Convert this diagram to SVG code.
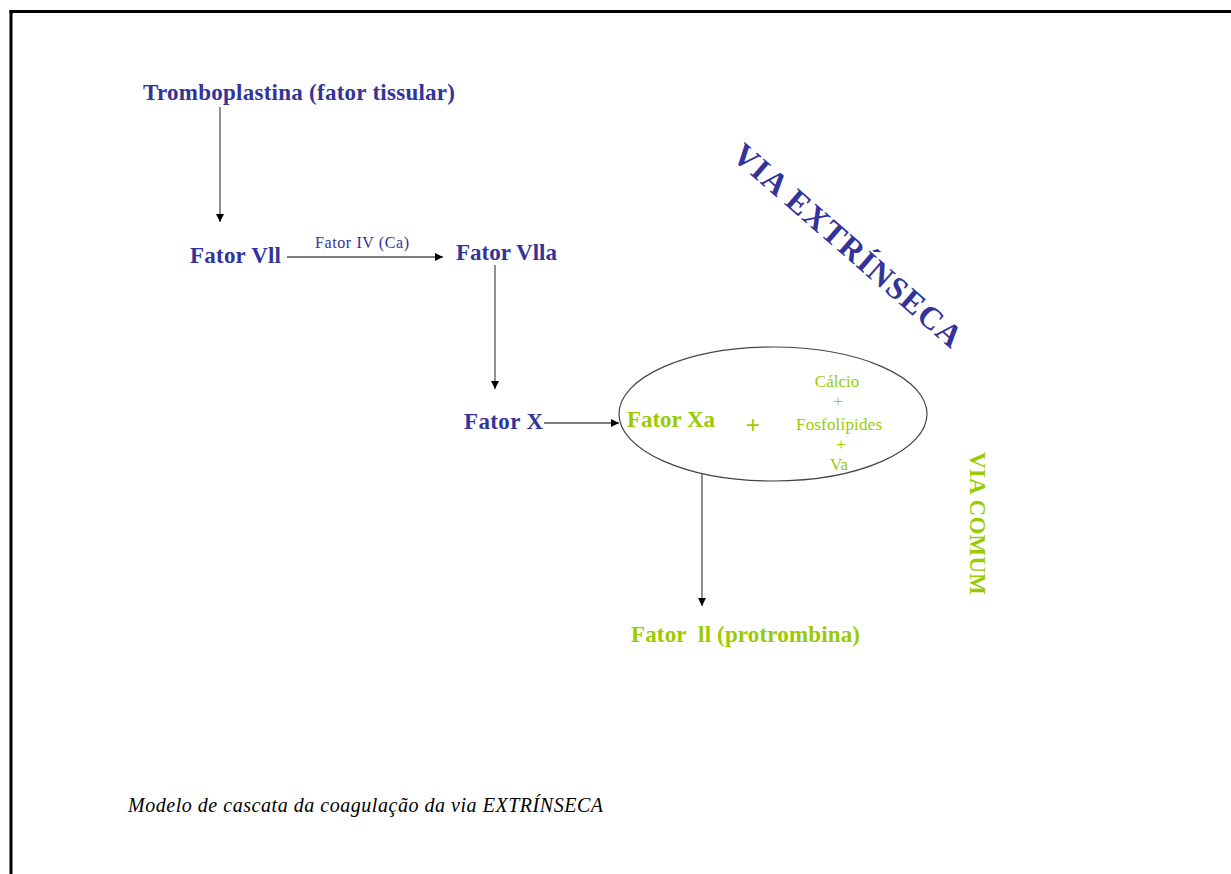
<svg xmlns="http://www.w3.org/2000/svg" width="1231" height="874" viewBox="0 0 1231 874">
<defs>
<marker id="ah" viewBox="0 0 10 10" refX="10" refY="5" markerWidth="8" markerHeight="8" markerUnits="userSpaceOnUse" orient="auto">
<path d="M0,0 L10,5 L0,10 z" fill="#000"/>
</marker>
<style>
.b{font-family:"Liberation Serif","Times New Roman",serif;font-weight:bold;font-size:23px;fill:#333399}
.g{font-family:"Liberation Serif","Times New Roman",serif;font-weight:bold;font-size:23px;fill:#99cc00}
.gs{font-family:"Liberation Serif","Times New Roman",serif;font-size:17px;fill:#99cc00;text-anchor:middle}
.lab{font-family:"Liberation Serif","Times New Roman",serif;font-size:16px;fill:#333399}
.cap{font-family:"Liberation Serif","Times New Roman",serif;font-style:italic;font-size:20px;fill:#000}
.ln{stroke:#555;stroke-width:1.3;fill:none}
</style>
</defs>
<rect width="1231" height="874" fill="#fff"/>
<g id="frame">
<line x1="9.5" y1="11.5" x2="1231" y2="11.5" stroke="#000" stroke-width="3"/>
<line x1="11" y1="10" x2="11" y2="874" stroke="#000" stroke-width="3"/>
</g>
<g id="connectors">
<line class="ln" x1="220" y1="107" x2="220" y2="222" marker-end="url(#ah)"/>
<line class="ln" x1="287" y1="257" x2="443" y2="257" marker-end="url(#ah)"/>
<line class="ln" x1="495" y1="265" x2="495" y2="389" marker-end="url(#ah)"/>
<line class="ln" x1="544" y1="423" x2="619" y2="423" marker-end="url(#ah)"/>
<line class="ln" x1="702" y1="474" x2="702" y2="606" marker-end="url(#ah)"/>
<text class="lab" x="362" y="248" text-anchor="middle" textLength="94" lengthAdjust="spacing">Fator IV (Ca)</text>
</g>
<g id="tromboplastina"><text class="b" x="143" y="100" textLength="312" lengthAdjust="spacing">Tromboplastina (fator tissular)</text></g>
<g id="fator-vii"><text class="b" x="190" y="263" textLength="91" lengthAdjust="spacing">Fator Vll</text></g>
<g id="fator-viia"><text class="b" x="456" y="260" textLength="101" lengthAdjust="spacing">Fator Vlla</text></g>
<g id="fator-x"><text class="b" x="464" y="429" textLength="79" lengthAdjust="spacing">Fator X</text></g>
<g id="complexo">
<ellipse cx="773" cy="414" rx="154" ry="67" fill="none" stroke="#444" stroke-width="1.2"/>
<text class="g" x="627" y="427" textLength="88" lengthAdjust="spacing">Fator Xa</text>
<text class="g" x="753" y="434" text-anchor="middle" style="font-size:26px">+</text>
<text class="gs" x="837" y="387">Cálcio</text>
<text class="gs" x="838" y="407">+</text>
<text class="gs" x="839" y="430" textLength="86" lengthAdjust="spacing">Fosfolípides</text>
<text class="gs" x="841" y="450">+</text>
<text class="gs" x="839" y="470">Va</text>
</g>
<g id="fator-ii"><text class="g" x="631" y="642" style="white-space:pre" textLength="229" lengthAdjust="spacing">Fator  ll (protrombina)</text></g>
<g id="via-extrinseca"><text class="b" style="font-size:32px" text-anchor="middle" transform="translate(848,245) rotate(41)" y="11" textLength="292" lengthAdjust="spacing">VIA EXTRÍNSECA</text></g>
<g id="via-comum"><text class="g" text-anchor="middle" transform="translate(970,523.5) rotate(90)" y="0" textLength="143" lengthAdjust="spacing">VIA COMUM</text></g>
<g id="legenda"><text class="cap" x="128" y="812" textLength="475" lengthAdjust="spacing">Modelo de cascata da coagulação da via EXTRÍNSECA</text></g>
</svg>
